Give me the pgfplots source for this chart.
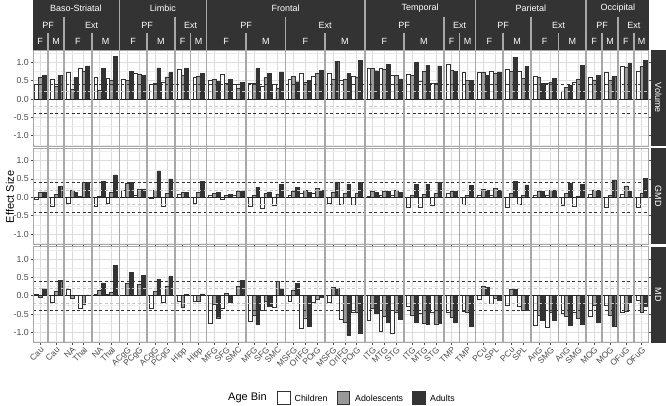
\documentclass[border=0pt]{standalone}
\usepackage{fontspec}
\setmainfont{Liberation Sans}
\usepackage{pgfplots}
\usepackage{pgfplotstable}
\pgfplotsset{compat=1.18}
\definecolor{stripbg}{HTML}{333333}
\definecolor{sepcol}{HTML}{A8A8A8}
\definecolor{barline}{HTML}{333333}
\definecolor{adolfill}{HTML}{999999}
\definecolor{adultfill}{HTML}{333333}
\definecolor{gridmaj}{HTML}{DCDCDC}
\definecolor{gridmin}{HTML}{ECECEC}
\definecolor{ticktext}{HTML}{4D4D4D}

\pgfplotstableread{
x c a d
7.175 0.40 0.58 0.65
23.025 0.55 0.34 0.64
38.875 0.73 0.26 0.59
50.725 0.83 0.76 0.90
66.575 0.58 0.25 0.84
78.425 0.56 0.52 1.17
94.275 0.54 0.50 0.75
106.125 0.70 0.67 0.65
121.975 0.40 0.42 0.85
133.825 0.45 0.60 0.72
149.675 0.80 0.65 0.84
165.525 0.60 0.63 0.70
181.375 0.52 0.55 0.49
193.225 0.67 0.43 0.54
205.075 0.41 0.30 0.45
220.925 0.43 0.43 0.83
232.775 0.34 0.59 0.70
244.625 0.41 0.29 0.74
260.475 0.55 0.61 0.47
272.325 0.69 0.46 0.51
284.175 0.63 0.70 0.79
300.025 0.70 0.55 1.03
311.875 0.50 0.54 0.70
323.725 0.61 0.60 1.06
339.575 0.85 0.83 0.77
351.425 0.85 0.81 0.95
363.275 0.64 0.64 0.55
379.125 0.67 0.65 0.99
390.975 0.48 0.76 0.92
402.825 0.43 0.43 0.90
418.675 0.96 0.79 0.75
434.525 0.73 0.51 0.51
450.375 0.73 0.74 0.65
462.225 0.77 0.71 0.74
478.075 0.81 0.75 1.14
489.925 0.77 0.56 0.89
505.775 0.62 0.58 0.43
517.625 0.43 0.46 0.56
533.475 0.22 0.32 0.37
545.325 0.45 0.55 0.91
561.175 0.59 0.52 0.64
577.025 0.73 0.50 0.61
592.875 0.90 0.86 0.97
608.725 0.75 0.88 1.05
}\volume

\pgfplotstableread{
x c a d
7.175 -0.05 0.13 0.15
23.025 -0.23 0.09 0.29
38.875 -0.15 0.20 0.13
50.725 0.02 0.41 0.41
66.575 -0.25 0.04 0.43
78.425 -0.15 0.13 0.61
94.275 0.18 0.37 0.41
106.125 0.06 0.22 0.22
121.975 -0.03 0.20 0.72
133.825 -0.24 0.11 0.50
149.675 0.08 0.14 0.13
165.525 -0.16 0.14 0.43
181.375 0.06 0.11 0.13
193.225 -0.05 0.05 0.08
205.075 0.05 0.17 0.17
220.925 -0.24 0.06 0.27
232.775 -0.30 0.11 0.15
244.625 -0.21 0.09 0.36
260.475 0.06 0.17 0.27
272.325 0.11 0.20 0.13
284.175 0.11 0.24 0.18
300.025 -0.15 0.15 0.42
311.875 -0.19 0.11 0.36
323.725 -0.18 0.11 0.41
339.575 0.04 0.17 0.13
351.425 0.05 0.16 0.16
363.275 0.06 0.20 0.13
379.125 -0.26 0.06 0.36
390.975 -0.28 0.09 0.36
402.825 -0.21 0.11 0.40
418.675 0.11 0.17 0.17
434.525 -0.19 0.06 0.32
450.375 0.06 0.22 0.18
462.225 0.06 0.25 0.18
478.075 -0.26 0.11 0.43
489.925 -0.19 0.06 0.34
505.775 0.06 0.16 0.16
517.625 0.06 0.18 0.20
533.475 -0.21 0.11 0.38
545.325 -0.24 0.04 0.36
561.175 0.09 0.20 0.18
577.025 -0.27 0.06 0.46
592.875 0.09 0.31 0.16
608.725 -0.26 0.11 0.52
}\gmd

\pgfplotstableread{
x c a d
7.175 0.04 -0.05 0.19
23.025 -0.18 0.11 0.41
38.875 0.17 -0.08 0.01
50.725 -0.35 -0.23 0.02
66.575 0.04 0.15 0.35
78.425 0.05 0.09 0.82
94.275 0.01 0.33 0.63
106.125 0.01 0.30 0.55
121.975 -0.33 0.11 0.45
133.825 -0.18 0.27 0.52
149.675 -0.14 -0.32 0.04
165.525 -0.14 -0.14 0.05
181.375 -0.75 -0.22 -0.60
193.225 -0.35 0.06 -0.19
205.075 0.02 0.26 0.42
220.925 -0.69 -0.53 -0.78
232.775 -0.39 -0.16 -0.30
244.625 -0.32 0.40 0.19
260.475 -0.15 0.15 0.34
272.325 -0.89 -0.60 -0.83
284.175 -0.18 -0.09 -0.05
300.025 -0.18 0.22 0.20
311.875 -0.65 -0.73 -1.09
323.725 -0.45 -0.45 -1.01
339.575 -0.66 -0.35 -0.48
351.425 -0.98 -0.57 -0.72
363.275 -1.02 -0.46 -0.64
379.125 -0.30 -0.54 -0.73
390.975 -0.48 -0.76 -0.77
402.825 -0.44 -0.77 -0.74
418.675 -0.45 -0.58 -0.72
434.525 -0.42 -0.44 -0.83
450.375 -0.09 0.27 0.22
462.225 -0.21 -0.07 -0.12
478.075 -0.27 0.18 0.18
489.925 -0.30 -0.39 -0.39
505.775 -0.81 -0.53 -0.66
517.625 -0.87 -0.45 -0.67
533.475 -0.49 -0.56 -0.80
545.325 -0.45 -0.61 -0.77
561.175 -0.55 -0.25 -0.71
577.025 -0.27 -0.53 -0.82
592.875 -0.44 -0.43 -0.19
608.725 -0.11 -0.45 -0.29
}\md

\pgfplotsset{
  rowaxis/.style={
    scale only axis, width=615.9pt, height=96pt,
    xmin=0, xmax=615.9, ymin=-1.28, ymax=1.335,
    axis line style={draw=none},
    ytick={-1,-0.5,0,0.5,1},
    yticklabels={-1.0,-0.5,0.0,0.5,1.0},
    minor ytick={-1.25,-0.75,-0.25,0.25,0.75,1.25},
    ymajorgrids, yminorgrids, xmajorgrids,
    major grid style={gridmaj, line width=0.55pt},
    minor grid style={gridmin, line width=0.3pt},
    xtick={7.175,23.025,38.875,50.725,66.575,78.425,94.275,106.125,121.975,133.825,149.675,165.525,181.375,193.225,205.075,220.925,232.775,244.625,260.475,272.325,284.175,300.025,311.875,323.725,339.575,351.425,363.275,379.125,390.975,402.825,418.675,434.525,450.375,462.225,478.075,489.925,505.775,517.625,533.475,545.325,561.175,577.025,592.875,608.725},
    tick align=outside,
    major tick length=2.5pt, minor tick length=0pt,
    ytick style={ticktext, line width=0.5pt},
    yticklabel style={font=\fontsize{8.8}{10}\selectfont, text=ticktext, inner sep=1.5pt},
    /pgf/number format/assume math mode=true,
  },
  cbar/.style={ybar, bar width=3.8pt, bar shift=-3.8pt, fill=white, draw=barline, line width=0.45pt},
  abar/.style={ybar, bar width=3.8pt, bar shift=0pt, fill=adolfill, draw=barline, line width=0.45pt},
  dbar/.style={ybar, bar width=3.8pt, bar shift=3.8pt, fill=adultfill, draw=barline, line width=0.45pt},
}

\newcommand{\reflines}{%
  \draw[gray!45, line width=0.6pt, dash pattern=on 3pt off 2.5pt] (axis cs:0,0.2) -- (axis cs:615.9,0.2);
  \draw[gray!45, line width=0.6pt, dash pattern=on 3pt off 2.5pt] (axis cs:0,-0.2) -- (axis cs:615.9,-0.2);
  \draw[black!80, line width=0.6pt, dash pattern=on 3pt off 2.5pt] (axis cs:0,0.4) -- (axis cs:615.9,0.4);
  \draw[black!80, line width=0.6pt, dash pattern=on 3pt off 2.5pt] (axis cs:0,-0.4) -- (axis cs:615.9,-0.4);
  \draw[black!85, line width=0.5pt] (axis cs:0,0) -- (axis cs:615.9,0);
}

\begin{document}
\begin{tikzpicture}[x=1pt,y=1pt]
\useasboundingbox (0,0) rectangle (666,406);

% Volume row
\begin{axis}[rowaxis, at={(33pt,260pt)}, anchor=south west, xticklabels={}, xtick style={draw=none}]
  \addplot[cbar] table[x=x,y=c]{\volume};
  \addplot[abar] table[x=x,y=a]{\volume};
  \addplot[dbar] table[x=x,y=d]{\volume};
  \reflines
\end{axis}

% GMD row
\begin{axis}[rowaxis, at={(33pt,161.7pt)}, anchor=south west, xticklabels={}, xtick style={draw=none}]
  \addplot[cbar] table[x=x,y=c]{\gmd};
  \addplot[abar] table[x=x,y=a]{\gmd};
  \addplot[dbar] table[x=x,y=d]{\gmd};
  \reflines
\end{axis}

% MD row
\begin{axis}[rowaxis, at={(33pt,63.3pt)}, anchor=south west,
  xtick style={ticktext, line width=0.5pt},
  xticklabels={Cau,Cau,NA,Thal,NA,Thal,ACgG,PCgG,ACgG,PCgG,Hipp,Hipp,MFG,SFG,SMC,MFG,SFG,SMC,MSFG,OrIFG,POrG,MSFG,OrIFG,POrG,ITG,MTG,STG,ITG,MTG,STG,TMP,TMP,PCu,SPL,PCu,SPL,AnG,SMG,AnG,SMG,MOG,MOG,OFuG,OFuG},
  xticklabel style={font=\fontsize{8.5}{9}\selectfont, text=ticktext, rotate=45, anchor=north east, inner sep=0.6pt}]
  \addplot[cbar] table[x=x,y=c]{\md};
  \addplot[abar] table[x=x,y=a]{\md};
  \addplot[dbar] table[x=x,y=d]{\md};
  \reflines
\end{axis}

% strips
\fill[stripbg] (33,356) rectangle (648.9,406);
\fill[stripbg] (650.5,260) rectangle (666,356);
\fill[stripbg] (650.5,161.7) rectangle (666,257.7);
\fill[stripbg] (650.5,63.3) rectangle (666,159.3);

% panel borders
\draw[sepcol, line width=0.9pt] (33,260) rectangle (648.9,356);
\draw[sepcol, line width=0.9pt] (33,161.7) rectangle (648.9,257.7);
\draw[sepcol, line width=0.9pt] (33,63.3) rectangle (648.9,159.3);

% separators
\foreach \xx in {119.35,206.45,364.65,475.45,586.25}
  \draw[sepcol, line width=1.7pt] (\xx,406) -- (\xx,63.3);
\foreach \xx in {63.95,174.75,285.55,443.75,530.85,617.95}
  \draw[sepcol, line width=1.7pt] (\xx,389.3) -- (\xx,63.3);
\foreach \xx in {48.1,91.65,147.05,190.6,246.0,325.1,404.2,459.6,503.15,558.55,602.1,633.8}
  \draw[sepcol, line width=1.7pt] (\xx,372.7) -- (\xx,63.3);

% strip texts
\begin{scope}[every node/.style={text=white, font=\fontsize{9}{10}\selectfont, inner sep=0pt}]
\node at (75.8,397.7) {Baso-Striatal};
\node at (162.9,397.7) {Limbic};
\node at (285.55,397.7) {Frontal};
\node at (420.05,397.7) {Temporal};
\node at (530.85,397.7) {Parietal};
\node at (617.95,397.7) {Occipital};
\foreach \xx/\lab in {48.1/PF,91.65/Ext,147.05/PF,190.6/Ext,246.0/PF,325.1/Ext,404.2/PF,459.6/Ext,503.15/PF,558.55/Ext,602.1/PF,633.8/Ext}
  \node at (\xx,381) {\lab};
\foreach \xx/\lab in {40.175/F,56.025/M,77.8/F,105.5/M,133.2/F,160.9/M,182.675/F,198.525/M,226.225/F,265.775/M,305.325/F,344.875/M,384.425/F,423.975/M,451.675/F,467.525/M,489.3/F,517.0/M,544.7/F,572.4/M,594.175/F,610.025/M,625.875/F,641.725/M}
  \node at (\xx,364.3) {\lab};
\node[rotate=-90] at (658.25,308) {Volume};
\node[rotate=-90] at (658.25,209.7) {GMD};
\node[rotate=-90] at (658.25,111.3) {MD};
\end{scope}

% y label
\node[rotate=90, font=\fontsize{11}{13}\selectfont, text=black] at (10,209) {Effect Size};

% legend
\node[anchor=west, font=\fontsize{11}{13}\selectfont, inner sep=0pt] at (228,8) {Age Bin};
\draw[barline, line width=0.5pt, fill=white] (277.5,1.8) rectangle (290,14.3);
\node[anchor=west, font=\fontsize{8.8}{10}\selectfont, inner sep=0pt] at (294.5,8) {Children};
\draw[barline, line width=0.5pt, fill=adolfill] (337,1.8) rectangle (349.5,14.3);
\node[anchor=west, font=\fontsize{8.8}{10}\selectfont, inner sep=0pt] at (355,8) {Adolescents};
\draw[barline, line width=0.5pt, fill=adultfill] (412.5,1.8) rectangle (425,14.3);
\node[anchor=west, font=\fontsize{8.8}{10}\selectfont, inner sep=0pt] at (430,8) {Adults};
\end{tikzpicture}
\end{document}
